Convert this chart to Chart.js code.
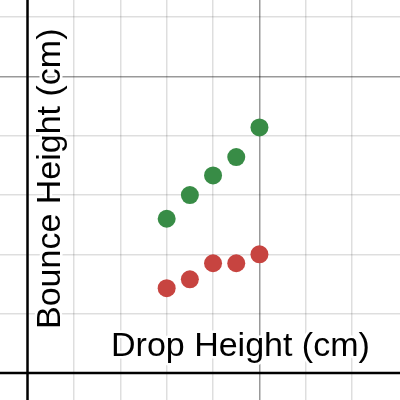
<!DOCTYPE html>
<html>
<head>
<meta charset="utf-8">
<script src="https://cdn.jsdelivr.net/npm/chart.js@4"></script>
<style>
  html, body { margin: 0; padding: 0; background: #fff; }
  #wrap { width: 400px; height: 400px; }
</style>
</head>
<body>
<div id="wrap"><canvas id="myChart"></canvas></div>
<script>
// values
const dropHeight = [30, 35, 40, 45, 50]
const bounceGreen = [26, 30, 33.3, 36.4, 41.4]
const bounceRed = [14.3, 15.8, 18.5, 18.5, 20]

const xTitle = 'Drop Height (cm)'
const yTitle = 'Bounce Height (cm)'

const toPoints = (xs, ys) => xs.map((x, i) => ({ x: x, y: ys[i] }))

function gridColor(ctx) {
  const v = ctx.tick.value
  if (v === 0 || v % 10 !== 0) return 'rgba(0,0,0,0)'
  if (v % 50 === 0) return 'rgba(0,0,0,0.4)'
  return 'rgba(0,0,0,0.13)'
}

// black axes + desmos style labels with white halo
const desmosExtras = {
  id: 'desmosExtras',
  beforeDatasetsDraw(chart) {
    const c = chart.ctx
    const { x, y } = chart.scales
    const x0 = x.getPixelForValue(0)
    const y0 = y.getPixelForValue(0)
    c.save()
    c.strokeStyle = '#000'
    c.lineWidth = 2.5
    c.beginPath()
    c.moveTo(x0, 0); c.lineTo(x0, chart.height)
    c.moveTo(0, y0); c.lineTo(chart.width, y0)
    c.stroke()
    c.restore()
  },
  afterDraw(chart) {
    const c = chart.ctx
    c.save()
    c.font = "34px 'Liberation Sans', Arial, sans-serif"
    c.textAlign = 'left'
    c.textBaseline = 'alphabetic'
    c.lineJoin = 'round'
    c.lineWidth = 5
    c.strokeStyle = '#fff'
    c.fillStyle = '#000'
    c.strokeText(xTitle, 111, 356)
    c.fillText(xTitle, 111, 356)
    c.translate(60, 329)
    c.rotate(-Math.PI / 2)
    c.strokeText(yTitle, 0, 0)
    c.fillText(yTitle, 0, 0)
    c.restore()
  }
}

new Chart(document.getElementById('myChart'), {
  type: 'scatter',
  data: {
    datasets: [
      {
        data: toPoints(dropHeight, bounceGreen),
        backgroundColor: '#388c46',
        borderWidth: 0,
        pointRadius: 9,
        pointHoverRadius: 9
      },
      {
        data: toPoints(dropHeight, bounceRed),
        backgroundColor: '#c74440',
        borderWidth: 0,
        pointRadius: 9,
        pointHoverRadius: 9
      }
    ]
  },
  options: {
    responsive: true,
    maintainAspectRatio: false,
    animation: false,
    layout: { padding: 0, autoPadding: false },
    plugins: {
      legend: { display: false },
      tooltip: { enabled: false }
    },
    scales: {
      x: {
        type: 'linear',
        min: -5.93,
        max: 80.3,
        border: { display: false },
        ticks: { display: false, stepSize: 10 },
        grid: { color: gridColor, lineWidth: 1.5, drawTicks: false }
      },
      y: {
        type: 'linear',
        min: -4.55,
        max: 62.87,
        border: { display: false },
        ticks: { display: false, stepSize: 10 },
        grid: { color: gridColor, lineWidth: 1.5, drawTicks: false }
      }
    }
  },
  plugins: [desmosExtras]
})
</script>
</body>
</html>
